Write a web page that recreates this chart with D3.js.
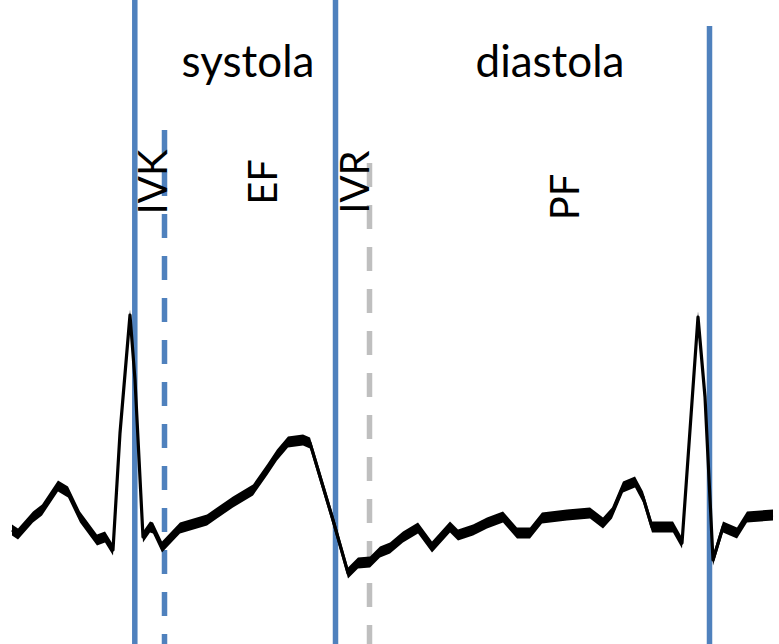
<!DOCTYPE html>
<html>
<head>
<meta charset="utf-8">
<script src="https://cdn.jsdelivr.net/npm/d3@7"></script>
<style>
  html, body { margin: 0; padding: 0; background: #ffffff; }
  svg { display: block; }
</style>
</head>
<body>
<script>
// ---- Data (time in ms, voltage in mV) ----
const traceTime = [12, 18, 33, 42, 58, 68, 80, 97, 105, 113, 120, 130, 135, 143, 150, 153, 162, 180, 207, 217, 233, 253, 267, 277, 288, 303, 310, 333, 348, 358, 370, 380, 390, 403, 418, 432, 450, 458, 473, 487, 503, 517, 530, 542, 567, 590, 603, 612, 623, 635, 643, 652, 673, 682, 690, 698, 705, 713, 723, 737, 747, 773];
const traceVolt = [0.00, -0.02, 0.065, 0.10, 0.22, 0.19, 0.065, -0.05, -0.035, -0.10, 0.485, 1.075, 0.75, -0.035, 0.015, 0.01, -0.085, 0.01, 0.05, 0.085, 0.14, 0.20, 0.30, 0.375, 0.44, 0.45, 0.435, 0.05, -0.215, -0.165, -0.16, -0.11, -0.09, -0.035, 0.01, -0.085, 0.015, -0.025, 0.00, 0.035, 0.065, -0.015, -0.015, 0.06, 0.075, 0.085, 0.035, 0.085, 0.215, 0.24, 0.165, 0.015, 0.015, -0.065, 0.50, 1.065, 0.665, -0.15, 0.015, -0.015, 0.065, 0.075];

const markerTime = [134.8, 164.5, 335.5, 369.5, 709.5];
const markerKind = ["solid", "dashBlue", "solid", "dashGray", "solid"];

const phaseLabels = ["systola", "diastola"];
const phaseCenter = [248, 550];

const intervalLabels = ["IVK", "EF", "IVR", "PF"];
const intervalTime = [167, 277, 369, 579];
const intervalMid = [182, 182, 182, 197];

// ---- Layout ----
const W = 779, H = 644;
const svg = d3.select("body").append("svg").attr("width", W).attr("height", H);

const x = d3.scaleLinear().domain([0, 779]).range([0, W]);
const y = d3.scaleLinear().domain([-0.57, 2.65]).range([H, 0]);

const BLUE = "#4f81bd", GRAY = "#bfbfbf";
const markerStyle = {
  solid:    { color: BLUE, dash: null },
  dashBlue: { color: BLUE, dash: "24,18" },
  dashGray: { color: GRAY, dash: "24,18" }
};
const markerTops = [0, 130, 0, 163, 26];

// vertical markers
svg.append("g").selectAll("line")
  .data(markerTime)
  .join("line")
  .attr("x1", d => x(d)).attr("x2", d => x(d))
  .attr("y1", (d, i) => markerTops[i]).attr("y2", H)
  .attr("stroke", (d, i) => markerStyle[markerKind[i]].color)
  .attr("stroke-width", 5.5)
  .attr("stroke-dasharray", (d, i) => markerStyle[markerKind[i]].dash);

// ECG trace (noisy band + line)
const pts = traceTime.map((t, i) => [t, traceVolt[i]]);
const band = 5.5;
const area = d3.area()
  .x(d => x(d[0]))
  .y0(d => y(d[1]) - band)
  .y1(d => y(d[1]) + band);
const line = d3.line().x(d => x(d[0])).y(d => y(d[1]));

svg.append("path").datum(pts).attr("d", area).attr("fill", "#000");
svg.append("path").datum(pts).attr("d", line)
  .attr("fill", "none").attr("stroke", "#000")
  .attr("stroke-width", 3.2).attr("stroke-linejoin", "round");

// phase labels
svg.append("g").selectAll("text")
  .data(phaseLabels)
  .join("text")
  .attr("x", (d, i) => phaseCenter[i])
  .attr("y", 77)
  .attr("text-anchor", "middle")
  .attr("font-family", "Lato, 'Open Sans', sans-serif")
  .attr("font-size", 44)
  .attr("fill", "#000")
  .text(d => d);

// interval labels (rotated)
svg.append("g").selectAll("text")
  .data(intervalLabels)
  .join("text")
  .attr("transform", (d, i) => `translate(${x(intervalTime[i])},${intervalMid[i]}) rotate(-90)`)
  .attr("text-anchor", "middle")
  .attr("font-family", "Lato, 'Open Sans', sans-serif")
  .attr("font-size", 40)
  .attr("fill", "#000")
  .text(d => d);
</script>
</body>
</html>
